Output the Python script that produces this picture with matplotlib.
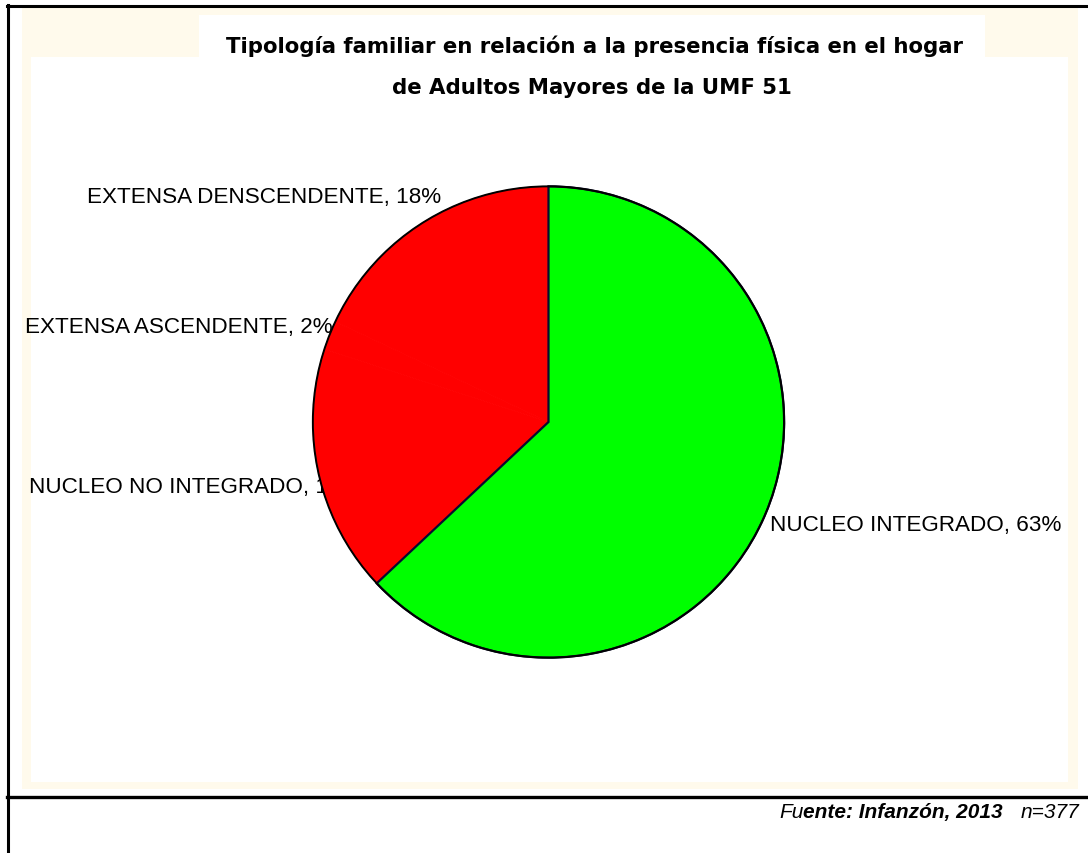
import matplotlib
matplotlib.use("Agg")
import matplotlib.pyplot as plt
from matplotlib.patches import Rectangle, Circle
from matplotlib.lines import Line2D

# ---- data ----
categories = ["NUCLEO INTEGRADO", "NUCLEO NO INTEGRADO", "EXTENSA ASCENDENTE", "EXTENSA DENSCENDENTE"]
values = [63, 17, 2, 18]
colors = ["#00FF00", "#FF0000", "#FF0000", "#FF0000"]
title_lines = ["Tipología familiar en relación a la presencia física en el hogar",
               "de Adultos Mayores de la UMF 51"]

W, H = 1088, 854
fig = plt.figure(figsize=(W / 100, H / 100), dpi=100)
fig.patch.set_facecolor("white")

def fx(px):
    return px / W

def fy(py):
    return 1 - py / H

def rect(x0, y0, x1, y1, color):
    fig.patches.append(Rectangle((fx(x0), fy(y1)), fx(x1) - fx(x0), fy(y0) - fy(y1),
                                 transform=fig.transFigure, facecolor=color,
                                 edgecolor="none", zorder=-10))

cream = "#FFFAEC"
rect(22, 9, 1078, 790, cream)
rect(31, 58, 1068, 783, "white")
rect(199, 16, 985, 58, "white")

# frame lines
fig.lines.append(Line2D([fx(7), 1.0], [fy(7), fy(7)], transform=fig.transFigure, color="black", lw=2.2, zorder=5))
fig.lines.append(Line2D([fx(8), fx(8)], [fy(6), 0.0], transform=fig.transFigure, color="black", lw=2.2, zorder=5))
fig.lines.append(Line2D([fx(7), 1.0], [fy(798), fy(798)], transform=fig.transFigure, color="black", lw=2.4, zorder=5))

# title
fig.text(fx(594), fy(46), title_lines[0], ha="center", va="center", fontsize=15.3,
         fontweight="bold", family="DejaVu Sans", color="black")
fig.text(fx(592), fy(88), title_lines[1], ha="center", va="center", fontsize=15.3,
         fontweight="bold", family="DejaVu Sans", color="black")

# pie axes
cx, cy, r = 548.5, 423, 238
ax = fig.add_axes([fx(cx - r), fy(cy + r), (2 * r) / W, (2 * r) / H])
ax.patch.set_visible(False)
wedges, _ = ax.pie(values, colors=colors, startangle=90, counterclock=False, radius=1,
                   wedgeprops=dict(linewidth=0.6, edgecolor="#FF0000"))
for w in wedges[1:]:
    w.set_zorder(2)
wedges[0].set_edgecolor("#0A0A30")
wedges[0].set_linewidth(1.6)
wedges[0].set_zorder(3)
ax.add_patch(Circle((0, 0), 1, facecolor="none", edgecolor="black", lw=1.4, zorder=4))
ax.set_xlim(-1.01, 1.01)
ax.set_ylim(-1.01, 1.01)
ax.set_aspect("equal")
ax.axis("off")
ax.set_zorder(1)

# labels (drawn beneath the pie)
label_pos = {
    "NUCLEO INTEGRADO": (770, 525),
    "NUCLEO NO INTEGRADO": (29, 488),
    "EXTENSA ASCENDENTE": (25, 328),
    "EXTENSA DENSCENDENTE": (87, 198),
}
for cat, val in zip(categories, values):
    px, py = label_pos[cat]
    fig.text(fx(px), fy(py), f"{cat}, {val}%", ha="left", va="center", fontsize=16.2,
             family="Liberation Sans", color="black", zorder=0)

# footer with mixed styles, chained right-to-left
fs = 15.0
t3 = fig.text(fx(1079), fy(818), "n=377", ha="right", va="baseline", fontsize=fs,
              family="Liberation Sans", style="italic", color="black")
t2 = fig.text(0, 0, "ente: Infanzón, 2013   ", fontsize=fs, family="Liberation Sans",
              style="italic", fontweight="bold", color="black")
t1 = fig.text(0, 0, "Fu", fontsize=fs, family="Liberation Sans", style="italic", color="black")
fig.canvas.draw()
rend = fig.canvas.get_renderer()
b3 = t3.get_window_extent(rend)
t2.set_ha("right"); t2.set_va("bottom")
t2.set_position((b3.x0 / W, b3.y0 / H))
fig.canvas.draw()
b2 = t2.get_window_extent(rend)
t1.set_ha("right"); t1.set_va("bottom")
t1.set_position((b2.x0 / W, b2.y0 / H))

fig.savefig("out.png", dpi=100, facecolor="white")
